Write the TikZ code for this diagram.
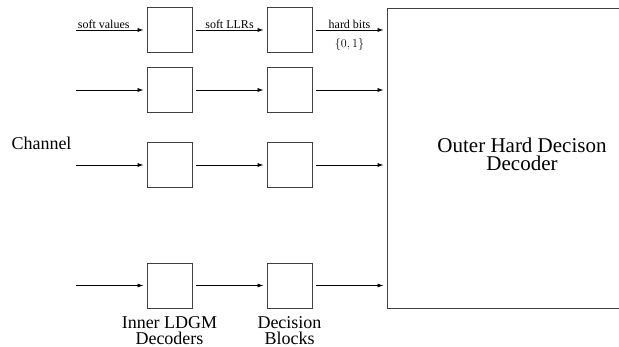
\documentclass[tikz,border=0pt]{standalone}
\usepackage{fontspec}
\setmainfont{Liberation Serif}
\usetikzlibrary{arrows.meta}

\tikzset{
  blk/.style={draw=black!75, line width=0.9pt, minimum size=45pt, inner sep=0pt},
  sig/.style={-{Latex[length=6pt,width=4pt]}, line width=0.75pt, shorten <=4pt, shorten >=3pt},
  lbl/.style={font=\fontsize{12}{12}\selectfont, inner xsep=1pt, inner ysep=1.5pt},
  caption/.style={font=\fontsize{18}{15.5}\selectfont, align=center, inner sep=0pt},
}

\begin{document}
\begin{tikzpicture}[x=1pt, y=-1pt]
            \useasboundingbox (0,0) rectangle (619,347);

            % inner decoders
            \node[blk] (ldgm1) at (169.5, 30) {};
            \node[blk] (ldgm2) at (169.5, 90) {};
            \node[blk] (ldgm3) at (169.5, 165) {};
            \node[blk] (ldgm4) at (169.5, 285.5) {};

            % decision blocks
            \node[blk] (dec1) at (289.5, 30) {};
            \node[blk] (dec2) at (289.5, 90) {};
            \node[blk] (dec3) at (289.5, 165) {};
            \node[blk] (dec4) at (289.5, 285.5) {};

            % outer decoder, cut off on the right
            \node[draw=black!75, line width=0.9pt, minimum width=240pt, minimum height=300pt, inner sep=0pt] (outer) at (507, 158) {};
            \node[font=\fontsize{21}{18}\selectfont, align=center, inner sep=0pt] (outertxt) at (522, 154) {Outer Hard Decison\\Decoder};

            \node[caption] (chan) at (41.5, 143) {Channel};

            \coordinate (in1) at (72, 30);
            \coordinate (in2) at (72, 90);
            \coordinate (in3) at (72, 165);
            \coordinate (in4) at (72, 285.5);

            \draw[sig] (in1) -- (ldgm1) node[pos=0.06, above right, lbl] {soft values};
            \draw[sig] (in2) -- (ldgm2);
            \draw[sig] (in3) -- (ldgm3);
            \draw[sig] (in4) -- (ldgm4);

            \draw[sig] (ldgm1) -- (dec1) node[midway, above, lbl] {soft LLRs};
            \draw[sig] (ldgm2) -- (dec2);
            \draw[sig] (ldgm3) -- (dec3);
            \draw[sig] (ldgm4) -- (dec4);

            \draw[sig] (dec1) -- (dec1 -| outer.west) node[midway, above, lbl] {hard bits}
                node[midway, below, lbl, inner ysep=8pt] {\(\{0,1\}\)};
            \draw[sig] (dec2) -- (dec2 -| outer.west);
            \draw[sig] (dec3) -- (dec3 -| outer.west);
            \draw[sig] (dec4) -- (dec4 -| outer.west);

            \node[caption, anchor=north] (innerlbl) at ([yshift=-8pt]ldgm4.south) {Inner LDGM\\Decoders};
            \node[caption, anchor=north] (declbl) at ([yshift=-8pt]dec4.south) {Decision\\Blocks};
        \end{tikzpicture}
\end{document}
